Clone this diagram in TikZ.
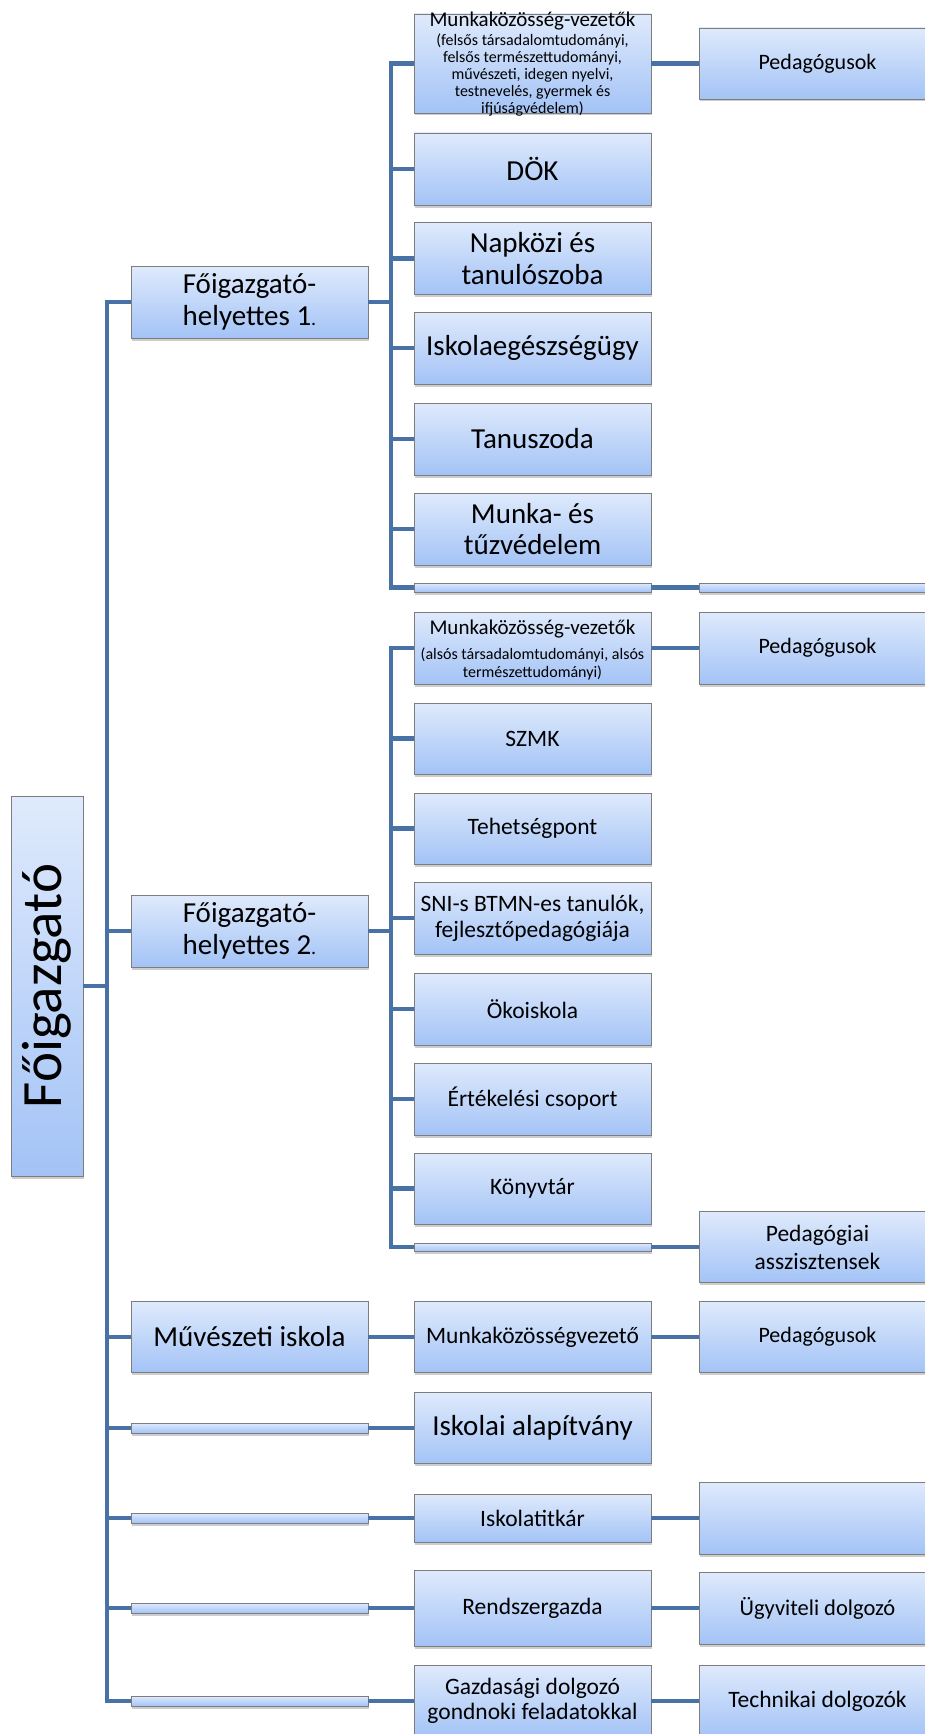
\documentclass[tikz,border=0pt]{standalone}
\usepackage{fontspec}
\usepackage{graphicx}
\setmainfont{Carlito}
\usetikzlibrary{shadows}
\definecolor{boxtop}{RGB}{223,234,252}
\definecolor{boxbot}{RGB}{163,195,246}
\definecolor{boxline}{RGB}{125,125,125}
\definecolor{conncol}{RGB}{72,113,166}
\newcommand{\fsz}[2]{\fontsize{#1}{#2}\selectfont}
\begin{document}
\begin{tikzpicture}[x=1pt,y=-1pt,
  box/.style={draw=boxline, line width=0.9pt, top color=boxtop, bottom color=boxbot,
    minimum width=237pt, inner sep=1pt, align=center, text=black,
    drop shadow={shadow xshift=1.2pt, shadow yshift=-2.5pt, opacity=0.28, fill=black!70}},
  bar/.style={box, inner sep=0pt},
  txt/.style={inner sep=0pt, align=center, text=black},
  conn/.style={draw=conncol, line width=4.4pt},
]
\useasboundingbox (0,0) rectangle (925,1734);

% ---------- root ----------
\node[box, minimum width=72pt, minimum height=380pt] (fo) at (47,986) {\rotatebox{90}{\fsz{57}{60}Főigazgató}};

% ---------- level 1 ----------
\node[box, minimum height=72pt, font=\fsz{29}{32}] (h1) at (249.5,302) {Főigazgató-\\helyettes 1{\fsz{20}{32}.}};
\node[box, minimum height=72pt, font=\fsz{29}{32}] (h2) at (249.5,931) {Főigazgató-\\helyettes 2{\fsz{20}{32}.}};
\node[box, minimum height=71pt, font=\fsz{29}{32}] (muv) at (249.5,1337) {Művészeti iskola};
\node[bar, minimum height=10pt] (b1) at (249.5,1428) {};
\node[bar, minimum height=10pt] (b2) at (249.5,1518) {};
\node[bar, minimum height=10pt] (b3) at (249.5,1608) {};
\node[bar, minimum height=10pt] (b4) at (249.5,1701) {};

% ---------- level 2, group 1 ----------
\node[box, minimum height=99pt] (mk1) at (532.5,63.5) {};
\node[txt, font=\fsz{16}{17}] (mk1t) at (532.5,64) {{\fsz{21}{22}Munkaközösség-vezetők}\\[2pt](felsős társadalomtudományi,\\felsős természettudományi,\\művészeti, idegen nyelvi,\\testnevelés, gyermek és\\ifjúságvédelem)};
\node[box, minimum height=72pt, font=\fsz{29}{31.5}] (dok) at (532.5,169) {DÖK};
\node[box, minimum height=72pt, font=\fsz{29}{31.5}] (nap) at (532.5,258.5) {Napközi és\\tanulószoba};
\node[box, minimum height=72pt, font=\fsz{29}{31.5}] (isk) at (532.5,348) {Iskolaegészségügy};
\node[box, minimum height=72pt, font=\fsz{29}{31.5}] (tan) at (532.5,439) {Tanuszoda};
\node[box, minimum height=72pt, font=\fsz{29}{31.5}] (mun) at (532.5,529) {Munka- és\\tűzvédelem};
\node[bar, minimum height=9pt] (g1bar) at (532.5,587.5) {};

% ---------- level 2, group 2 ----------
\node[box, minimum height=72pt] (mk2) at (532.5,648) {};
\node[txt, font=\fsz{16}{18}] (mk2t) at (532.5,650) {{\fsz{21}{22}Munkaközösség-vezetők}\\[7pt](alsós társadalomtudományi, alsós\\természettudományi)};
\node[box, minimum height=71pt, font=\fsz{23.5}{26}] (szmk) at (532.5,738.5) {SZMK};
\node[box, minimum height=71pt, font=\fsz{23.5}{26}] (teh) at (532.5,828.5) {Tehetségpont};
\node[box, minimum height=72pt, font=\fsz{23.5}{26}] (sni) at (532.5,918) {SNI-s BTMN-es tanulók,\\fejlesztőpedagógiája};
\node[box, minimum height=72pt, font=\fsz{23.5}{26}] (oko) at (532.5,1009) {Ökoiskola};
\node[box, minimum height=72pt, font=\fsz{23.5}{26}] (ert) at (532.5,1099) {Értékelési csoport};
\node[box, minimum height=71pt, font=\fsz{23.5}{26}] (kon) at (532.5,1188.5) {Könyvtár};
\node[bar, minimum height=8pt] (g2bar) at (532.5,1247) {};

% ---------- level 2, lower part ----------
\node[box, minimum height=71pt, font=\fsz{23.5}{26}] (mkv) at (532.5,1337) {Munkaközösségvezető};
\node[box, minimum height=71pt, font=\fsz{29}{32}] (ala) at (532.5,1428) {Iskolai alapítvány};
\node[box, minimum height=48pt, font=\fsz{23.5}{26}] (tit) at (532.5,1518) {Iskolatitkár};
\node[box, minimum height=76pt, font=\fsz{23.5}{26}] (ren) at (532.5,1608) {Rendszergazda};
\node[box, minimum height=72pt, font=\fsz{23.5}{25}] (gaz) at (532.5,1701) {Gazdasági dolgozó\\gondnoki feladatokkal};

% ---------- level 3 ----------
\node[box, minimum height=71pt, font=\fsz{22}{25}] (ped1) at (817.5,63.5) {Pedagógusok};
\node[bar, minimum height=9pt] (r1bar) at (817.5,587.5) {};
\node[box, minimum height=72pt, font=\fsz{22}{25}] (ped2) at (817.5,648) {Pedagógusok};
\node[box, minimum height=71pt, font=\fsz{23.5}{28}] (pas) at (817.5,1247) {Pedagógiai\\asszisztensek};
\node[box, minimum height=71pt, font=\fsz{22}{25}] (ped3) at (817.5,1337) {Pedagógusok};
\node[box, minimum height=72pt] (emp) at (817.5,1518) {};
\node[box, minimum height=72pt, font=\fsz{22.5}{25}] (ugy) at (817.5,1608) {Ügyviteli dolgozó};
\node[box, minimum height=72pt, font=\fsz{23.5}{26}] (tec) at (817.5,1701) {Technikai dolgozók};

% ---------- connectors ----------
\coordinate (sp0) at (107,986);
\draw[conn] (fo.east) -- (sp0);
\foreach \n in {h1,h2,muv,b1,b2,b3,b4} \draw[conn] (sp0) |- (\n.west);

\coordinate (sp1) at (391,302);
\draw[conn] (h1.east) -- (sp1);
\foreach \n in {mk1,dok,nap,isk,tan,mun,g1bar} \draw[conn] (sp1) |- (\n.west);
\draw[conn] (mk1.east) -- (ped1.west);
\draw[conn] (g1bar.east) -- (r1bar.west);

\coordinate (sp2) at (391,931);
\draw[conn] (h2.east) -- (sp2);
\foreach \n in {mk2,szmk,teh,sni,oko,ert,kon,g2bar} \draw[conn] (sp2) |- (\n.west);
\draw[conn] (mk2.east) -- (ped2.west);
\draw[conn] (g2bar.east) -- (pas.west);

\draw[conn] (muv.east) -- (mkv.west);
\draw[conn] (mkv.east) -- (ped3.west);
\draw[conn] (b1.east) -- (ala.west);
\draw[conn] (b2.east) -- (tit.west);
\draw[conn] (tit.east) -- (emp.west);
\draw[conn] (b3.east) -- (ren.west);
\draw[conn] (ren.east) -- (ugy.west);
\draw[conn] (b4.east) -- (gaz.west);
\draw[conn] (gaz.east) -- (tec.west);
\end{tikzpicture}
\end{document}
